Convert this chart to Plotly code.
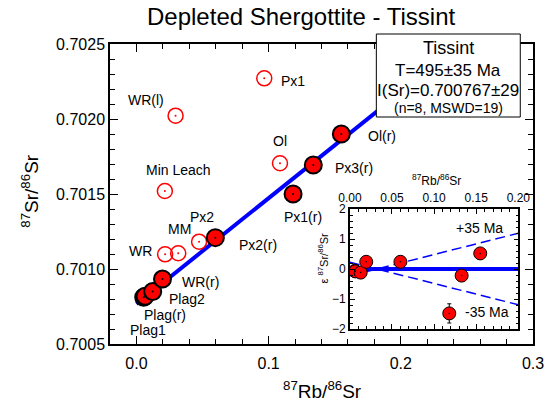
import numpy as np
import plotly.graph_objects as go

# ---------------- data ----------------
# Isochron (filled) fractions
iso_labels = ["Plag1", "Plag(r)", "Plag2", "WR(r)", "Px2(r)", "Px1(r)", "Px3(r)", "Ol(r)"]
iso_rb = [0.0055, 0.0065, 0.0123, 0.0197, 0.0597, 0.1185, 0.1338, 0.1550]
iso_sr = [0.700812, 0.700818, 0.700850, 0.700933, 0.701209, 0.701500, 0.701693, 0.701900]

# Excluded (open) fractions
ex_labels = ["Px1", "WR(l)", "Ol", "Min Leach", "Px2", "MM", "WR"]
ex_rb = [0.0967, 0.0296, 0.1086, 0.0215, 0.0474, 0.0316, 0.0217]
ex_sr = [0.702271, 0.702022, 0.701705, 0.701520, 0.701182, 0.701105, 0.701098]

# Epsilon deviation (inset)
eps_rb = [0.0058, 0.0065, 0.0128, 0.0194, 0.0600, 0.1180, 0.1327, 0.1548]
eps_val = [-0.06, -0.08, -0.12, 0.24, 0.24, -1.48, -0.22, 0.52]
eps_err = [0.10, 0.10, 0.10, 0.10, 0.10, 0.32, 0.10, 0.10]

# Isochron parameters
age_ma = 495.0
age_err_ma = 35.0
initial_sr = 0.700767
decay_const = 1.42e-11
pivot_rb = 0.032

x_ticks_main = [0.0, 0.1, 0.2, 0.3]
y_ticks_main = [0.7005, 0.7010, 0.7015, 0.7020, 0.7025]

# ---------------- derived lines ----------------
slope = np.exp(decay_const * age_ma * 1e6) - 1.0
iso_x = np.array([0.0, 0.3])
iso_y = initial_sr + slope * iso_x
k_eps = decay_const * age_err_ma * 1e6 / initial_sr * 1e4
inset_x = np.array([0.0, 0.2])
eps_plus = k_eps * (inset_x - pivot_rb)
eps_minus = -k_eps * (inset_x - pivot_rb)

# ---------------- styling ----------------
FONT = "Arial, Liberation Sans, sans-serif"
W, H = 557, 409
ML, MR, MT, MB = 110, 15, 44, 65
PW, PH = W - ML - MR, H - MT - MB


def px_x(p):
    return (p - ML) / PW


def px_y(p):
    return (H - MB - p) / PH


def paper_text(xp, yp, text, size, angle=0):
    return dict(x=px_x(xp), y=px_y(yp), xref="paper", yref="paper", text=text,
                showarrow=False, xanchor="center", yanchor="middle", textangle=angle,
                font=dict(size=size, family=FONT, color="black"))


label_offsets = {
    "Plag1": (4, -33), "Plag(r)": (20, -19), "Plag2": (34, -7), "WR(r)": (38, -3),
    "Px2(r)": (43, -7), "Px1(r)": (10, -23), "Px3(r)": (41, -3), "Ol(r)": (41, -2),
    "Px1": (29, -3), "WR(l)": (-30, 16), "Ol": (0, 22), "Min Leach": (14, 21),
    "Px2": (3, 25), "MM": (1, 24), "WR": (-25, 3),
}

fig = go.Figure()

# isochron line
fig.add_trace(go.Scatter(x=iso_x, y=iso_y, mode="lines",
                         line=dict(color="#0000ff", width=4), hoverinfo="skip",
                         xaxis="x", yaxis="y"))
# open points
fig.add_trace(go.Scatter(x=ex_rb, y=ex_sr, mode="markers",
                         marker=dict(size=15, color="rgba(0,0,0,0)",
                                     line=dict(color="#ff0000", width=1.5)),
                         xaxis="x", yaxis="y"))
fig.add_trace(go.Scatter(x=ex_rb, y=ex_sr, mode="markers",
                         marker=dict(size=2, color="#ff0000"), xaxis="x", yaxis="y"))
# filled points
fig.add_trace(go.Scatter(x=iso_rb, y=iso_sr, mode="markers",
                         marker=dict(size=17, color="#ff0000",
                                     line=dict(color="black", width=2)),
                         xaxis="x", yaxis="y"))
fig.add_trace(go.Scatter(x=iso_rb, y=iso_sr, mode="markers",
                         marker=dict(size=2, color="black"), xaxis="x", yaxis="y"))

# inset lines
fig.add_trace(go.Scatter(x=inset_x, y=[0, 0], mode="lines",
                         line=dict(color="#0000ff", width=4), xaxis="x2", yaxis="y2"))
fig.add_trace(go.Scatter(x=inset_x, y=eps_plus, mode="lines",
                         line=dict(color="#0000ff", width=1.5, dash="10px,5px"),
                         xaxis="x2", yaxis="y2"))
fig.add_trace(go.Scatter(x=inset_x, y=eps_minus, mode="lines",
                         line=dict(color="#0000ff", width=1.5, dash="10px,5px"),
                         xaxis="x2", yaxis="y2"))
fig.add_trace(go.Scatter(x=eps_rb, y=eps_val, mode="markers",
                         error_y=dict(type="data", array=eps_err, color="black",
                                      thickness=1, width=2),
                         marker=dict(size=13, color="#ff0000",
                                     line=dict(color="black", width=1)),
                         xaxis="x2", yaxis="y2"))
fig.add_trace(go.Scatter(x=eps_rb, y=eps_val, mode="markers",
                         marker=dict(size=1.5, color="black"), xaxis="x2", yaxis="y2"))

annotations = []
for lab, xv, yv in list(zip(iso_labels, iso_rb, iso_sr)) + list(zip(ex_labels, ex_rb, ex_sr)):
    dx, dy = label_offsets[lab]
    annotations.append(dict(x=xv, y=yv, xref="x", yref="y", text=lab, showarrow=False,
                            xanchor="center", yanchor="middle",
                            xshift=dx, yshift=dy, font=dict(size=14, color="black", family=FONT)))

# inset labels
annotations += [
    paper_text(487, 228, "+35 Ma", 14),
    paper_text(495, 312, "-35 Ma", 14),
    paper_text(443, 180, "<sup>87</sup>Rb/<sup>86</sup>Sr", 12),
    paper_text(328, 258, "ε <sup>87</sup>Sr/<sup>86</sup>Sr", 11, -90),
]

# box text
bxp = (382 + 529) / 2
annotations += [
    paper_text(bxp, 48, "Tissint", 18),
    paper_text(bxp, 70, "T=495±35 Ma", 17),
    paper_text(bxp, 90, "I(Sr)=0.700767±29", 17),
    paper_text(bxp, 108, "(n=8, MSWD=19)", 14),
]

# axis titles and title
annotations += [
    paper_text(327, 390, "<sup>87</sup>Rb/<sup>86</sup>Sr", 19),
    paper_text(28, 191, "<sup>87</sup>Sr/<sup>86</sup>Sr", 19, -90),
    paper_text(305, 17, "Depleted Shergottite - Tissint", 24),
]

shapes = [dict(type="rect", xref="paper", yref="paper",
               x0=px_x(382), x1=px_x(529), y0=px_y(117), y1=px_y(34),
               fillcolor="white", line=dict(color="black", width=1), layer="above")]

axis_common = dict(showline=True, linecolor="black", linewidth=1.5, mirror="allticks",
                   ticks="inside", tickcolor="black", showgrid=False, zeroline=False)

fig.update_layout(
    width=W, height=H,
    margin=dict(l=ML, r=MR, t=MT, b=MB),
    paper_bgcolor="white", plot_bgcolor="white",
    showlegend=False,
    font=dict(family=FONT, color="black"),
    xaxis=dict(range=[-0.02, 0.3], tickvals=x_ticks_main, tickformat=".1f",
               ticklen=8, tickwidth=1.2, tickfont=dict(size=16), ticklabelstandoff=4,
               minor=dict(dtick=0.02, tick0=0, ticks="inside", ticklen=5, tickcolor="black"),
               domain=[0, 1], anchor="y", **axis_common),
    yaxis=dict(range=[0.7005, 0.7025], tickvals=y_ticks_main, tickformat=".4f",
               ticklen=8, tickwidth=1.2, tickfont=dict(size=16),
               minor=dict(dtick=0.0001, tick0=0.7005, ticks="inside", ticklen=5, tickcolor="black"),
               domain=[0, 1], anchor="x", **axis_common),
    xaxis2=dict(range=[0, 0.2], dtick=0.05, tickformat=".2f", side="top",
                ticklen=5, tickwidth=1, tickfont=dict(size=12),
                minor=dict(dtick=0.01, ticks="inside", ticklen=3, tickcolor="black"),
                domain=[px_x(355), px_x(527)], anchor="y2", **axis_common),
    yaxis2=dict(range=[-2, 2], dtick=1, ticklen=5, tickwidth=1, tickfont=dict(size=12),
                minor=dict(dtick=0.2, ticks="inside", ticklen=3, tickcolor="black"),
                domain=[px_y(329), px_y(209)], anchor="x2", **axis_common),
    annotations=annotations,
    shapes=shapes,
)

fig.write_html("out.html")
